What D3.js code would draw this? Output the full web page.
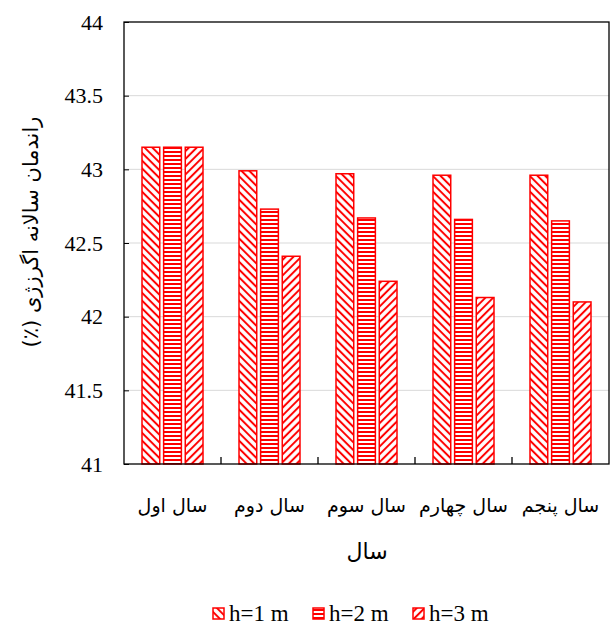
<!DOCTYPE html>
<html>
<head>
<meta charset="utf-8">
<script src="https://cdn.jsdelivr.net/npm/d3@7"></script>
</head>
<body style="margin:0">
<svg width="616" height="628"></svg>
<script>
    // data
    var years = ["سال اول", "سال دوم", "سال سوم", "سال چهارم", "سال پنجم"];
    var seriesNames = ["h=1 m", "h=2 m", "h=3 m"];
    var h1 = [43.15, 42.99, 42.97, 42.96, 42.96];
    var h2 = [43.15, 42.73, 42.67, 42.66, 42.65];
    var h3 = [43.15, 42.41, 42.24, 42.13, 42.10];
    var yTicks = [41, 41.5, 42, 42.5, 43, 43.5, 44];

    var SERIF = "Liberation Serif";
    var FA = "DejaVu Sans";

    var svg = d3.select("svg"),
        margin = {top: 22, right: 7, bottom: 164, left: 124},
        width = 616 - margin.left - margin.right,
        height = 628 - margin.top - margin.bottom,
        g = svg.append("g").attr("transform", "translate(" + margin.left + "," + margin.top + ")");

    // hatch patterns
    var defs = svg.append("defs");
    function hatch(id, angle, size, sw) {
        var p = defs.append("pattern")
            .attr("id", id)
            .attr("patternUnits", "userSpaceOnUse")
            .attr("width", size).attr("height", size)
            .attr("patternTransform", "rotate(" + angle + ")");
        p.append("rect").attr("width", size).attr("height", size).attr("fill", "#fff");
        p.append("line")
            .attr("x1", 0).attr("y1", size / 2).attr("x2", size).attr("y2", size / 2)
            .attr("stroke", "#ff0000").attr("stroke-width", sw);
    }
    hatch("p1", 45, 5.5, 2);
    hatch("p2", 0, 4, 2);
    hatch("p3", -45, 5.5, 2);
    var fills = ["url(#p1)", "url(#p2)", "url(#p3)"];

    var x0 = d3.scaleBand().domain(years).range([0, width]);
    var x1 = d3.scaleBand().domain(seriesNames).range([18, x0.bandwidth() - 18]).paddingInner(0.18);
    var y = d3.scaleLinear().domain([41, 44]).range([height, 0]);

    // gridlines
    g.append("g").selectAll("line")
        .data(yTicks.slice(1, -1))
        .enter().append("line")
        .attr("x1", 0).attr("x2", width)
        .attr("y1", function(d) { return y(d); })
        .attr("y2", function(d) { return y(d); })
        .attr("stroke", "#d9d9d9").attr("stroke-width", 1);

    // bars
    var table = years.map(function(yr, i) {
        return {year: yr, vals: [h1[i], h2[i], h3[i]]};
    });
    var groups = g.selectAll(".grp").data(table).enter().append("g")
        .attr("transform", function(d) { return "translate(" + x0(d.year) + ",0)"; });
    groups.selectAll("rect")
        .data(function(d) { return d.vals.map(function(v, k) { return {k: k, v: v}; }); })
        .enter().append("rect")
        .attr("x", function(d) { return x1(seriesNames[d.k]); })
        .attr("width", x1.bandwidth())
        .attr("y", function(d) { return y(d.v); })
        .attr("height", function(d) { return height - y(d.v); })
        .attr("fill", function(d) { return fills[d.k]; })
        .attr("stroke", "#ff0000").attr("stroke-width", 1.5);

    // frame
    g.append("rect").attr("width", width).attr("height", height)
        .attr("fill", "none").attr("stroke", "#000").attr("stroke-width", 1.3);

    // y axis
    var yAxis = g.append("g")
        .call(d3.axisLeft(y).tickValues(yTicks).tickSize(-5).tickPadding(21).tickFormat(d3.format("")));
    yAxis.select(".domain").remove();
    yAxis.selectAll("line").attr("stroke", "#000");
    yAxis.selectAll("text")
        .style("font-family", SERIF).style("font-size", "22px").attr("fill", "#000");

    // x axis boundary ticks
    var bounds = years.slice(1).map(function(d) { return x0(d); });
    g.append("g").selectAll("line").data(bounds).enter().append("line")
        .attr("x1", function(d) { return d; }).attr("x2", function(d) { return d; })
        .attr("y1", height).attr("y2", height - 7)
        .attr("stroke", "#000").attr("stroke-width", 1.3);

    // category labels
    g.append("g").selectAll("text").data(years).enter().append("text")
        .attr("x", function(d) { return x0(d) + x0.bandwidth() / 2; })
        .attr("y", height + 48)
        .attr("text-anchor", "middle")
        .attr("direction", "rtl")
        .style("font-family", FA).style("font-size", "19px")
        .text(function(d) { return d; });

    // axis titles
    svg.append("text")
        .attr("x", 367).attr("y", 559)
        .attr("text-anchor", "middle")
        .style("font-family", FA).style("font-size", "22px")
        .text("سال");
    svg.append("text")
        .attr("transform", "translate(38,232) rotate(-90)")
        .attr("text-anchor", "middle")
        .attr("direction", "rtl")
        .style("font-family", FA).style("font-size", "21px")
        .text("راندمان سالانه اگرزژی (٪)");

    // legend
    var lx = [213, 313, 413];
    var leg = svg.append("g").selectAll("g").data(seriesNames).enter().append("g")
        .attr("transform", function(d, i) { return "translate(" + lx[i] + ",608)"; });
    leg.append("rect").attr("width", 11).attr("height", 11)
        .attr("fill", function(d, i) { return fills[i]; })
        .attr("stroke", "#ff0000").attr("stroke-width", 1.5);
    leg.append("text")
        .attr("x", 16).attr("y", 13)
        .style("font-family", SERIF).style("font-size", "23px")
        .text(function(d) { return d; });
</script>
</body>
</html>
